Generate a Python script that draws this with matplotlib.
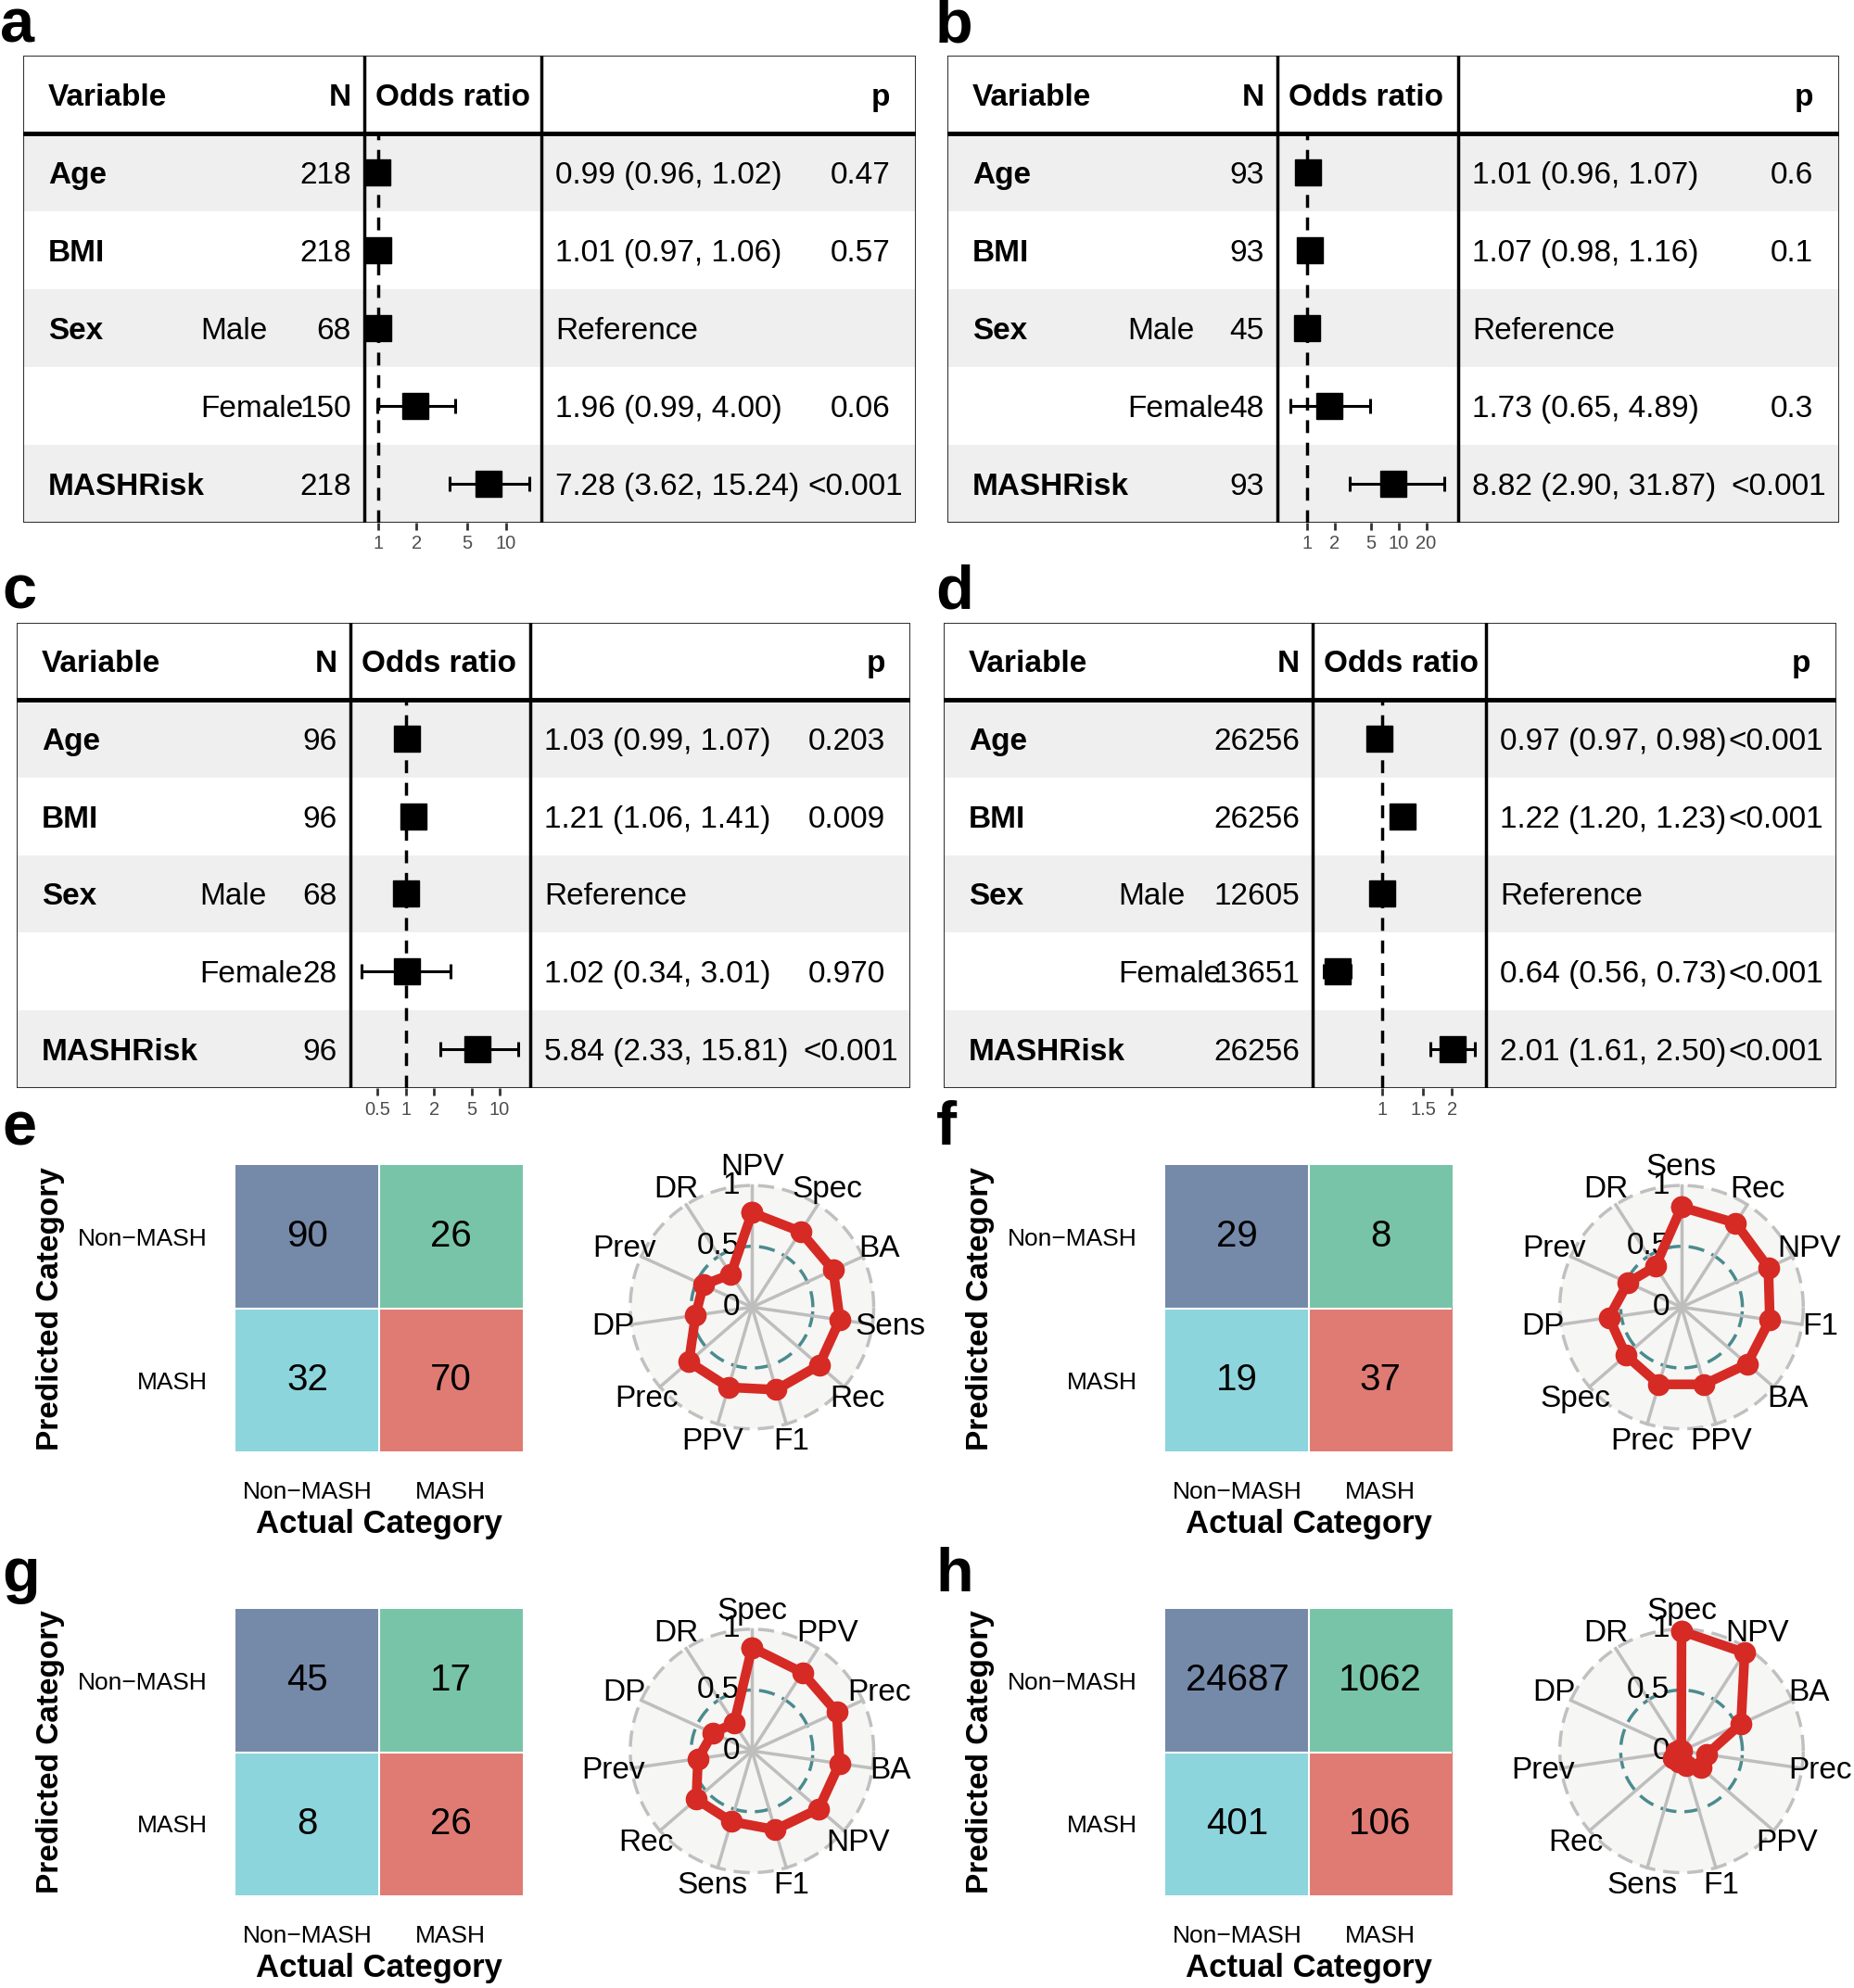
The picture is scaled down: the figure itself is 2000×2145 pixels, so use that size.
import numpy as np
import matplotlib.pyplot as plt
from matplotlib.colors import ListedColormap
from matplotlib.patches import Rectangle, Circle
from matplotlib.ticker import NullLocator

plt.rcParams['font.family'] = ['Liberation Sans', 'DejaVu Sans']

# layout was measured on a 1462 x 1568 copy of the figure
W, H = 1462.0, 1568.0

# ---------------- forest plot data ----------------
variables = ['Age', 'BMI', 'Sex', '', 'MASHRisk']
levels = ['', '', 'Male', 'Female', '']

a_n = [218, 218, 68, 150, 218]
a_or = [0.99, 1.01, 1.0, 1.96, 7.28]
a_lo = [0.96, 0.97, np.nan, 0.99, 3.62]
a_hi = [1.02, 1.06, np.nan, 4.00, 15.24]
a_p = ['0.47', '0.57', '', '0.06', '<0.001']
a_ticks = [1, 2, 5, 10]

b_n = [93, 93, 45, 48, 93]
b_or = [1.01, 1.07, 1.0, 1.73, 8.82]
b_lo = [0.96, 0.98, np.nan, 0.65, 2.90]
b_hi = [1.07, 1.16, np.nan, 4.89, 31.87]
b_p = ['0.6', '0.1', '', '0.3', '<0.001']
b_ticks = [1, 2, 5, 10, 20]

c_n = [96, 96, 68, 28, 96]
c_or = [1.03, 1.21, 1.0, 1.02, 5.84]
c_lo = [0.99, 1.06, np.nan, 0.34, 2.33]
c_hi = [1.07, 1.41, np.nan, 3.01, 15.81]
c_p = ['0.203', '0.009', '', '0.970', '<0.001']
c_ticks = [0.5, 1, 2, 5, 10]

d_n = [26256, 26256, 12605, 13651, 26256]
d_or = [0.97, 1.22, 1.0, 0.64, 2.01]
d_lo = [0.97, 1.20, np.nan, 0.56, 1.61]
d_hi = [0.98, 1.23, np.nan, 0.73, 2.50]
d_p = ['<0.001', '<0.001', '', '<0.001', '<0.001']
d_ticks = [1, 1.5, 2]

# ---------------- confusion matrices + radar ----------------
pred_labels = ['Non−MASH', 'MASH']
actual_labels = ['Non−MASH', 'MASH']
cell_kind = [[0, 1], [2, 3]]
cell_colors = ['#7589a9', '#78c4a9', '#8dd5dc', '#df7b73']

e_cm = [[90, 26], [32, 70]]
f_cm = [[29, 8], [19, 37]]
g_cm = [[45, 17], [8, 26]]
h_cm = [[24687, 1062], [401, 106]]

e_names = ['NPV', 'Spec', 'BA', 'Sens', 'Rec', 'F1', 'PPV', 'Prec', 'DP', 'Prev', 'DR']
e_vals = [0.776, 0.738, 0.733, 0.729, 0.729, 0.707, 0.686, 0.686, 0.468, 0.440, 0.321]
f_names = ['Sens', 'Rec', 'NPV', 'F1', 'BA', 'PPV', 'Prec', 'Spec', 'DP', 'Prev', 'DR']
f_vals = [0.822, 0.822, 0.784, 0.733, 0.713, 0.661, 0.661, 0.604, 0.602, 0.484, 0.398]
g_names = ['Spec', 'PPV', 'Prec', 'BA', 'NPV', 'F1', 'Sens', 'Rec', 'Prev', 'DP', 'DR']
g_vals = [0.849, 0.765, 0.765, 0.727, 0.726, 0.675, 0.605, 0.605, 0.448, 0.354, 0.271]
h_names = ['Spec', 'NPV', 'BA', 'Prec', 'PPV', 'F1', 'Sens', 'Rec', 'Prev', 'DP', 'DR']
h_vals = [0.984, 0.959, 0.537, 0.209, 0.209, 0.127, 0.091, 0.091, 0.044, 0.019, 0.004]

fig = plt.figure(figsize=(20, 21.45), dpi=100)


def box(x0, y0, x1, y1):
    return [x0 / W, 1 - y1 / H, (x1 - x0) / W, (y1 - y0) / H]


def letter(x, y, s):
    fig.text(x / W, 1 - y / H, s, fontsize=48, fontweight='bold', va='baseline')


def forest(x0, y0, x1, y1, d1, d2, lx, n, est, lo, hi, p, xlim, ticks):
    hb = y0 + 61
    rh = (y1 - hb) / 5.0
    ax = fig.add_axes(box(x0, y0, x1, y1))
    ax.set_xlim(x0, x1)
    ax.set_ylim(y1, y0)
    ax.axis('off')
    for i in range(0, 5, 2):
        ax.add_patch(Rectangle((x0, hb + i * rh), x1 - x0, rh, color='#efefef', lw=0))
    ax.add_patch(Rectangle((x0, y0), x1 - x0, y1 - y0, fill=False, ec='#333333', lw=1.5))
    ax.plot([x0, x1], [hb, hb], color='black', lw=3.5)
    ax.plot([d1, d1], [y0, y1], color='black', lw=2.5)
    ax.plot([d2, d2], [y0, y1], color='black', lw=2.5)

    hy = y0 + 33
    fs = 24
    ax.text(x0 + 20, hy, 'Variable', fontsize=fs, fontweight='bold', va='center')
    ax.text(d1 - 10, hy, 'N', fontsize=fs, fontweight='bold', va='center', ha='right')
    ax.text(d1 + 9, hy, 'Odds ratio', fontsize=fs, fontweight='bold', va='center')
    ax.text(x1 - 20, hy, 'p', fontsize=fs, fontweight='bold', va='center', ha='right')
    for i in range(5):
        yc = hb + (i + 0.5) * rh + 2.5
        ax.text(x0 + 20, yc, variables[i], fontsize=fs, fontweight='bold', va='center')
        ax.text(lx, yc, levels[i], fontsize=fs, va='center')
        ax.text(d1 - 10, yc, str(n[i]), fontsize=fs, va='center', ha='right')
        if np.isnan(lo[i]):
            ax.text(d2 + 11, yc, 'Reference', fontsize=fs, va='center')
        else:
            ax.text(d2 + 11, yc, f'{est[i]:.2f} ({lo[i]:.2f}, {hi[i]:.2f})',
                    fontsize=fs, va='center')
            px = x1 - 10 if p[i].startswith('<') else x1 - 20
            ax.text(px, yc, p[i], fontsize=fs, va='center', ha='right')

    # odds ratio column on a log scale
    ox = fig.add_axes(box(d1, hb, d2, y1))
    ox.patch.set_alpha(0)
    ox.set_xscale('log')
    ox.set_xlim(*xlim)
    ox.set_ylim(5, 0)
    for s in ox.spines.values():
        s.set_visible(False)
    ox.axvline(1, color='black', lw=2.5, ls=(0, (4, 3)))
    rows = np.arange(5) + 0.5
    est = np.asarray(est)
    lo = np.asarray(lo)
    hi = np.asarray(hi)
    ok = ~np.isnan(lo)
    ox.errorbar(est[ok], rows[ok], xerr=[est[ok] - lo[ok], hi[ok] - est[ok]], fmt='none',
                ecolor='black', elinewidth=2.2, capsize=6, capthick=2.2)
    ox.plot(est, rows, 's', color='black', ms=20, ls='none')
    ox.set_yticks([])
    ox.xaxis.set_minor_locator(NullLocator())
    ox.set_xticks(ticks)
    ox.set_xticklabels([f'{t:g}' for t in ticks])
    ox.tick_params(axis='x', length=6, width=2, color='#333333', labelsize=14.5,
                   labelcolor='#4d4d4d', pad=4)


def confusion(x0, y0, x1, y1, cm):
    ax = fig.add_axes(box(x0, y0, x1, y1))
    ax.imshow(cell_kind, cmap=ListedColormap(cell_colors), vmin=-0.5, vmax=3.5, aspect='auto')
    ax.axhline(0.5, color='white', lw=1.5)
    ax.axvline(0.5, color='white', lw=1.5)
    for i in range(2):
        for j in range(2):
            ax.text(j, i, str(cm[i][j]), fontsize=29, ha='center', va='center')
    for s in ax.spines.values():
        s.set_visible(False)
    ax.set_xticks([0, 1])
    ax.set_xticklabels(actual_labels)
    ax.set_yticks([0, 1])
    ax.set_yticklabels(pred_labels)
    ax.tick_params(axis='y', length=0, labelsize=19, pad=22)
    ax.tick_params(axis='x', length=0, labelsize=19, pad=23)
    ax.set_xlabel('Actual Category', fontsize=25, fontweight='bold', va='center')
    ax.xaxis.set_label_coords(0.5, -0.252)
    ax.set_ylabel('Predicted Category', fontsize=24, fontweight='bold', va='center')
    ax.yaxis.set_label_coords(-0.646, 0.5)


def radar(cx, cy, names, values):
    R = 96.0
    s = 1.5
    ax = fig.add_axes(box(cx - s * R, cy - s * R, cx + s * R, cy + s * R))
    ax.set_xlim(-s, s)
    ax.set_ylim(-s, s)
    ax.axis('off')
    k = len(names)
    ang = np.arange(k) * 2 * np.pi / k
    t = np.linspace(0, 2 * np.pi, 400)
    ax.add_patch(Circle((0, 0), 1, color='#f6f6f4', lw=0, zorder=0))
    ax.plot(np.cos(t), np.sin(t), color='#c0c0c0', lw=2.5, ls=(0, (5, 2.5)), zorder=1)
    ax.plot(0.5 * np.cos(t), 0.5 * np.sin(t), color='#4a8b8e', lw=2.5, ls=(0, (5, 2.5)), zorder=1)
    for a in ang:
        ax.plot([0, np.sin(a)], [0, np.cos(a)], color='#bebebe', lw=2.5, zorder=1)
    for a, nm in zip(ang, names):
        ax.text(1.15 * np.sin(a), 1.15 * np.cos(a), nm, fontsize=24, ha='center', va='center',
                zorder=2)
    for gv in [0, 0.5, 1]:
        ax.text(-0.1, gv, f'{gv:g}', fontsize=24, ha='right', va='center', zorder=2)
    v = np.asarray(values)
    x = v * np.sin(ang)
    y = v * np.cos(ang)
    ax.plot(np.r_[x, x[0]], np.r_[y, y[0]], color='#d62a24', lw=7.5, marker='o', ms=16,
            solid_joinstyle='round', zorder=3)


forest(18, 44, 722, 412, 287, 427, 158, a_n, a_or, a_lo, a_hi, a_p, (0.778, 18.9), a_ticks)
forest(747, 44, 1450, 412, 1007, 1150, 889, b_n, b_or, b_lo, b_hi, b_p, (0.464, 45), b_ticks)
forest(13, 491, 718, 858, 276, 418, 157, c_n, c_or, c_lo, c_hi, c_p, (0.254, 21.1), c_ticks)
forest(744, 491, 1448, 858, 1035, 1172, 882, d_n, d_or, d_lo, d_hi, d_p, (0.50, 2.81), d_ticks)

confusion(186, 919, 412, 1145, e_cm)
confusion(919, 919, 1145, 1145, f_cm)
confusion(186, 1269, 412, 1495, g_cm)
confusion(919, 1269, 1145, 1495, h_cm)

radar(593, 1031, e_names, e_vals)
radar(1326, 1031, f_names, f_vals)
radar(593, 1381, g_names, g_vals)
radar(1326, 1381, h_names, h_vals)

letter(0, 33, 'a')
letter(737, 33, 'b')
letter(2, 480, 'c')
letter(738, 480, 'd')
letter(2, 903, 'e')
letter(738, 903, 'f')
letter(2, 1255, 'g')
letter(738, 1255, 'h')

fig.savefig('out.png', dpi=100)
